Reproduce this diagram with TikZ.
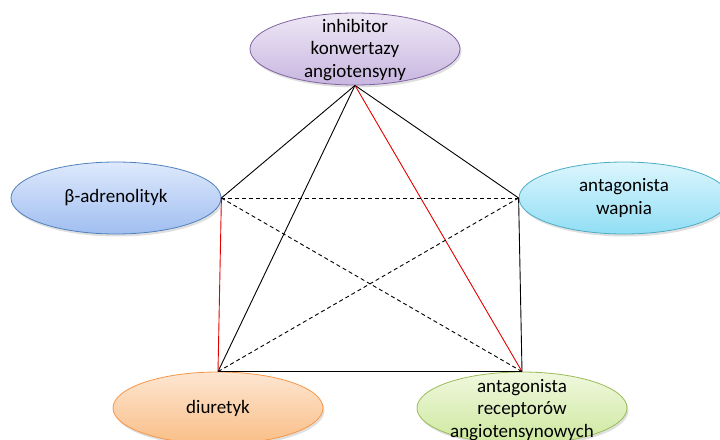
\documentclass[tikz,border=0pt]{standalone}
\usepackage{fontspec}
\setmainfont{Carlito}
\usetikzlibrary{shapes.geometric,shadows}
\begin{document}
\begin{tikzpicture}[x=1pt,y=-1pt,
  oval/.style={ellipse, minimum width=210pt, minimum height=72pt, inner sep=0pt,
    line width=0.8pt,
    drop shadow={shadow xshift=1.5pt, shadow yshift=-2.5pt, opacity=0.25}},
  txt/.style={align=center, inner sep=0pt, font=\fontsize{19}{22.5}\selectfont},
  link/.style={line width=0.9pt, black},
  redlink/.style={line width=0.9pt, red!90!black},
  dashlink/.style={line width=0.9pt, black, dash pattern=on 4pt off 3pt}]
\useasboundingbox (0,0) rectangle (720,439);
\clip (0,0) rectangle (720,439);
\node[oval, draw={rgb,255:red,128;green,100;blue,162}, top color={rgb,255:red,238;green,232;blue,245}, bottom color={rgb,255:red,200;green,182;blue,224}] (ace) at (355,49) {};
\node[txt] (aceT) at (355,50) {inhibitor\\konwertazy\\angiotensyny};
\node[oval, draw={rgb,255:red,79;green,129;blue,189}, top color={rgb,255:red,222;green,233;blue,252}, bottom color={rgb,255:red,160;green,190;blue,240}] (beta) at (116,198) {};
\node[txt] (betaT) at (beta) {β-adrenolityk};
\node[oval, draw={rgb,255:red,75;green,172;blue,198}, top color={rgb,255:red,220;green,246;blue,253}, bottom color={rgb,255:red,145;green,222;blue,245}] (ca) at (624,198) {};
\node[txt] (caT) at (624,198) {antagonista\\wapnia};
\node[oval, draw={rgb,255:red,247;green,150;blue,70}, top color={rgb,255:red,253;green,230;blue,210}, bottom color={rgb,255:red,250;green,190;blue,135}] (diu) at (218,408) {};
\node[txt] (diuT) at (diu) {diuretyk};
\node[oval, draw={rgb,255:red,155;green,187;blue,89}, top color={rgb,255:red,240;green,248;blue,222}, bottom color={rgb,255:red,205;green,232;blue,158}] (arb) at (522,408) {};
\node[txt] (arbT) at (522,410) {antagonista\\receptorów\\angiotensynowych};
\draw[link] (ace.south) -- (beta.east);
\draw[link] (ace.south) -- (ca.west);
\draw[link] (ace.south) -- (diu.north);
\draw[redlink] (ace.south) -- (arb.north);
\draw[redlink] (beta.east) -- (diu.north);
\draw[dashlink] (beta.east) -- (ca.west);
\draw[dashlink] (beta.east) -- (arb.north);
\draw[dashlink] (ca.west) -- (diu.north);
\draw[link] (ca.west) -- (arb.north);
\draw[link] (diu.north) -- (arb.north);
\end{tikzpicture}
\end{document}
